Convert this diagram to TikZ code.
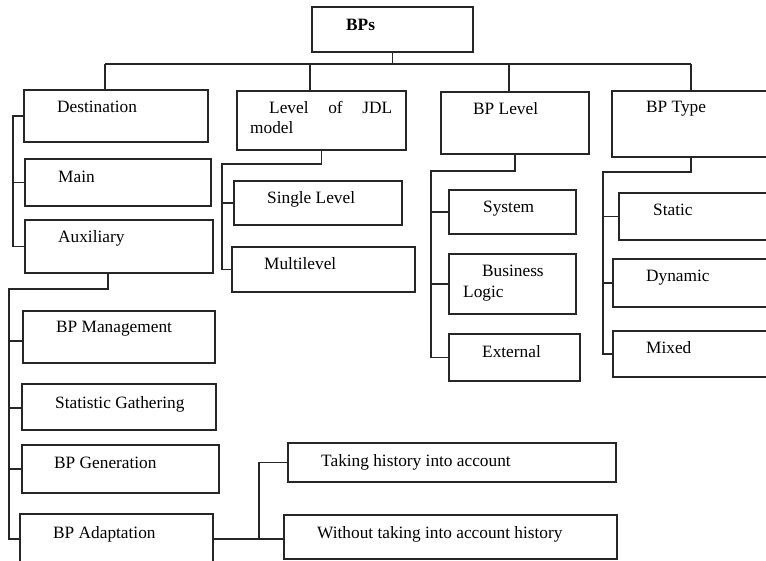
\documentclass[tikz,border=0pt]{standalone}
\usepackage{fontspec}
\setmainfont{Liberation Serif}
% \mkbox{name}{x1}{y1}{x2}{y2}: an empty framed box between two corners (px units)
\newcommand{\mkbox}[5]{%
  \node[box, minimum width={#4pt-#2pt}, minimum height={#5pt-#3pt}] (#1) at (#2,#3) {};}
\begin{document}
\begin{tikzpicture}[x=1pt, y=-1pt,
  box/.style={draw=black!85, line width=1.4pt, inner sep=0pt, outer sep=0pt, anchor=north west},
  link/.style={draw=black!85, line width=1.4pt},
  lbl/.style={anchor=base west, inner sep=0pt, font=\fontsize{17.3}{20}\selectfont}]
\useasboundingbox (0,0) rectangle (766,561);
\clip (0,0) rectangle (766,561);

% ---- boxes ----
\mkbox{bps}{312}{7}{473}{52}
\mkbox{dest}{24}{90}{208}{142}
\mkbox{main}{25}{159}{211}{206}
\mkbox{aux}{25}{220}{213}{273}
\mkbox{jdl}{237}{91}{406}{150}
\mkbox{single}{234}{181}{402}{225}
\mkbox{multi}{232}{247}{415}{292}
\mkbox{bplevel}{441}{92}{589}{154}
\mkbox{system}{449}{190}{576}{234}
\mkbox{business}{449}{254}{576}{314}
\mkbox{external}{449}{334}{580}{381}
\mkbox{bptype}{612}{91}{800}{157}
\mkbox{static}{619}{193}{800}{240}
\mkbox{dynamic}{613}{259}{800}{307}
\mkbox{mixed}{613}{331}{800}{377}
\mkbox{mgmt}{23}{311}{215}{363}
\mkbox{stat}{22}{384}{216}{430}
\mkbox{gen}{22}{445}{219}{493}
\mkbox{adapt}{20}{514}{213}{620}
\mkbox{taking}{288}{443}{616}{482}
\mkbox{without}{284}{515}{617}{559}

% ---- labels ----
\node[lbl, font=\fontsize{17.3}{20}\selectfont\bfseries] (t-bps) at (346,31) {BPs};
\node[lbl] (t-dest) at (57,113) {Destination};
\node[lbl] (t-main) at (58,183) {Main};
\node[lbl] (t-aux) at (58,243) {Auxiliary};
\node[lbl] (t-jdl1) at (269,114) {\makebox[123pt][s]{Level of JDL}};
\node[lbl] (t-jdl2) at (250,134) {model};
\node[lbl] (t-single) at (267,204) {Single Level};
\node[lbl] (t-multi) at (264,270) {Multilevel};
\node[lbl] (t-bplevel) at (473,115) {BP Level};
\node[lbl] (t-system) at (483,213) {System};
\node[lbl] (t-bus1) at (482,277) {Business};
\node[lbl] (t-bus2) at (463,298) {Logic};
\node[lbl] (t-external) at (482,358) {External};
\node[lbl] (t-bptype) at (646,113) {BP Type};
\node[lbl] (t-static) at (653,216) {Static};
\node[lbl] (t-dynamic) at (646,282) {Dynamic};
\node[lbl] (t-mixed) at (646,354) {Mixed};
\node[lbl] (t-mgmt) at (56,333) {BP Management};
\node[lbl] (t-stat) at (55,408) {Statistic Gathering};
\node[lbl] (t-gen) at (54,468) {BP Generation};
\node[lbl] (t-adapt) at (53,538) {BP Adaptation};
\node[lbl] (t-taking) at (321,466) {Taking history into account};
\node[lbl] (t-without) at (317,538) {Without taking into account history};

% ---- junction points ----
\coordinate (busW) at (105,64);
\coordinate (busE) at (691,64);
\coordinate (jdlTop) at (310,64);
\coordinate (lvlTop) at (509,64);
\coordinate (dbr) at (13,116);
\coordinate (auxDrop) at (108,289);
\coordinate (abr) at (9,289);
\coordinate (tk1) at (9,341);
\coordinate (tk2) at (9,408);
\coordinate (tk3) at (9,469);
\coordinate (tk4) at (9,539);
\coordinate (hb) at (259,539);
\coordinate (jbr) at (222,164);
\coordinate (lbr) at (431,171);
\coordinate (tdrop) at (691,172);
\coordinate (tbr) at (603,172);

% ---- top-level bus ----
\draw[link] (bps.south) -- (bps.south |- busW);
\draw[link] (busW) -- (busE);
\draw[link] (busW) -- (busW |- dest.north);
\draw[link] (jdlTop) -- (jdlTop |- jdl.north);
\draw[link] (lvlTop) -- (lvlTop |- bplevel.north);
\draw[link] (busE) -- (busE |- bptype.north);

% ---- destination bracket ----
\draw[link] (dest.west) -- (dbr) -- (dbr |- aux.west) -- (aux.west);
\draw[link] (dbr |- main.west) -- (main.west);

% ---- auxiliary sub-tree ----
\draw[link] (auxDrop |- aux.south) -- (auxDrop) -- (abr) -- (tk4) -- (tk4 -| adapt.west);
\draw[link] (tk1) -- (tk1 -| mgmt.west);
\draw[link] (tk2) -- (tk2 -| stat.west);
\draw[link] (tk3) -- (tk3 -| gen.west);

% ---- adaptation split ----
\draw[link] (hb -| adapt.east) -- (hb -| without.west);
\draw[link] (hb) -- (hb |- taking.west) -- (taking.west);

% ---- JDL level sub-tree ----
\draw[link] (jdl.south) -- (jdl.south |- jbr) -- (jbr) -- (jbr |- multi.west) -- (multi.west);
\draw[link] (jbr |- single.west) -- (single.west);

% ---- BP level sub-tree ----
\draw[link] (bplevel.south) -- (bplevel.south |- lbr) -- (lbr) -- (lbr |- external.west) -- (external.west);
\draw[link] (lbr |- system.west) -- (system.west);
\draw[link] (lbr |- business.west) -- (business.west);

% ---- BP type sub-tree ----
\draw[link] (tdrop |- bptype.south) -- (tdrop) -- (tbr) -- (tbr |- mixed.west) -- (mixed.west);
\draw[link] (tbr |- static.west) -- (static.west);
\draw[link] (tbr |- dynamic.west) -- (dynamic.west);
\end{tikzpicture}
\end{document}
